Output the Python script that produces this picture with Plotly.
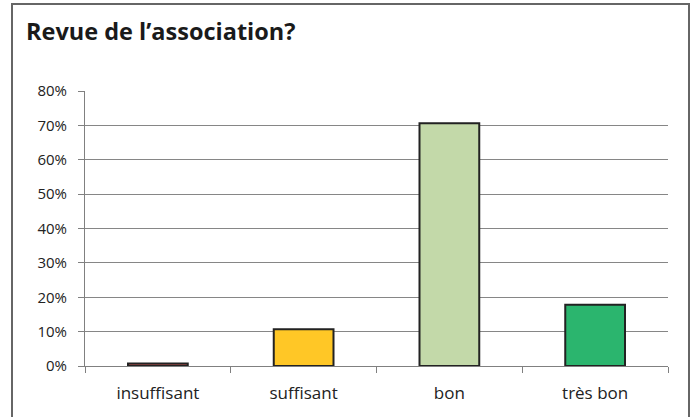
import plotly.graph_objects as go

categories = ["insuffisant", "suffisant", "bon", "très bon"]
values = [0.7, 10.7, 70.6, 17.8]
colors = ["#C0504D", "#FFC726", "#C3D9A9", "#2BB56E"]
y_ticks = [0, 10, 20, 30, 40, 50, 60, 70, 80]
title_text = "Revue de l’association?"

W, H = 691, 417
L, R, T, B = 85, 668, 91, 366

def px_x(p):
    return (p - L) / (R - L)

def px_y(p):
    return (B - p) / (B - T)

fig = go.Figure(go.Bar(
    x=categories, y=values,
    marker=dict(color=colors, line=dict(color="#222222", width=2)),
    width=0.41,
))

fig.update_layout(
    width=W, height=H,
    margin=dict(l=L, r=W - R, t=T, b=H - B, pad=0),
    paper_bgcolor="white", plot_bgcolor="white",
    showlegend=False,
    font=dict(family="Open Sans", color="#222222"),
    title=dict(text="<b>" + title_text + "</b>", x=26 / W, xanchor="left",
               y=1 - 32 / H, yanchor="middle", xref="container", yref="container",
               font=dict(family="Open Sans", size=23.5, color="#1a1a1a")),
    xaxis=dict(
        range=[-0.5, 3.5], tickson="boundaries", ticks="outside", ticklen=6,
        tickcolor="#808080", tickwidth=1,
        showline=True, linecolor="#808080", linewidth=1,
        showgrid=False, tickfont=dict(size=17, color="#222222"),
        ticklabelstandoff=12,
        fixedrange=True,
    ),
    yaxis=dict(
        range=[0, 80], tickvals=y_ticks, ticktext=[f"{v}%" for v in y_ticks],
        ticks="outside", ticklen=6, tickcolor="#808080", tickwidth=1,
        showline=True, linecolor="#808080", linewidth=1,
        showgrid=True, gridcolor="#868686", gridwidth=1,
        zeroline=False, tickfont=dict(size=15, color="#222222"),
        ticklabelstandoff=8,
        fixedrange=True,
    ),
    shapes=[dict(type="rect", xref="paper", yref="paper",
                 x0=px_x(12), x1=px_x(689), y0=px_y(430), y1=px_y(4),
                 line=dict(color="#666666", width=2), fillcolor="rgba(0,0,0,0)",
                 layer="below")],
)

fig.write_html("out.html", config={"displayModeBar": False},
               post_script="document.body.style.margin='0';")
